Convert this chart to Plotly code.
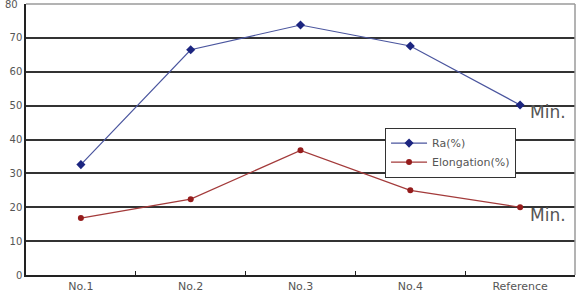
import plotly.graph_objects as go

categories = ["No.1", "No.2", "No.3", "No.4", "Reference"]
ra_values = [32.6, 66.5, 73.8, 67.6, 50.2]
elong_values = [16.8, 22.4, 36.8, 25.0, 20.0]
y_ticks = [0, 10, 20, 30, 40, 50, 60, 70, 80]

fig = go.Figure()
fig.add_trace(go.Scatter(
    x=categories, y=ra_values, name="Ra(%)", mode="lines+markers",
    line=dict(color="#4a559e", width=1.2),
    marker=dict(symbol="diamond", size=7, color="#1c2580"),
))
fig.add_trace(go.Scatter(
    x=categories, y=elong_values, name="Elongation(%)", mode="lines+markers",
    line=dict(color="#a33a3a", width=1.2),
    marker=dict(symbol="circle", size=6, color="#951c1c"),
))

for yv in [48.0, 17.6]:
    fig.add_annotation(x=0.915, y=yv, xref="paper", yref="y", text="Min.",
                       showarrow=False, xanchor="left", yanchor="middle",
                       font=dict(size=17, color="#555555", family="DejaVu Sans"))

# top tick label (plotly hides it because it overflows the page)
fig.add_annotation(x=-0.011, y=y_ticks[-1], xref="paper", yref="y", text=str(y_ticks[-1]),
                   showarrow=False, xanchor="right", yanchor="middle",
                   font=dict(size=10, color="#555555", family="DejaVu Sans"))

# top and right frame (light gray)
fig.add_shape(type="line", xref="paper", yref="paper", x0=0, x1=1, y0=1, y1=1,
              line=dict(color="#9a9a9a", width=1.5))
fig.add_shape(type="line", xref="paper", yref="paper", x0=1, x1=1, y0=0, y1=1,
              line=dict(color="#9a9a9a", width=1.5))

fig.update_layout(
    width=582, height=300,
    margin=dict(l=26, r=7, t=4, b=25),
    plot_bgcolor="white", paper_bgcolor="white",
    font=dict(family="DejaVu Sans", size=10, color="#555555"),
    legend=dict(x=0.654, y=0.544, xanchor="left", yanchor="top",
                bgcolor="white", bordercolor="#333333", borderwidth=1,
                font=dict(size=11, color="#555555"),
                tracegroupgap=0, itemwidth=36),
    showlegend=True,
)
fig.update_xaxes(
    type="category", showgrid=False, showline=True, linecolor="#222222", linewidth=1.5,
    ticks="inside", tickson="boundaries", ticklen=4, tickcolor="#222222",
    tickfont=dict(size=11, color="#555555"), range=[-0.5, 4.5],
)
fig.update_yaxes(
    range=[0, 80.01], tickvals=y_ticks, showgrid=True, gridcolor="#333333", gridwidth=1.6,
    showline=True, linecolor="#222222", linewidth=1.5, zeroline=False,
    tickfont=dict(size=10, color="#555555"), ticks="",
)

fig.write_html("out.html")
